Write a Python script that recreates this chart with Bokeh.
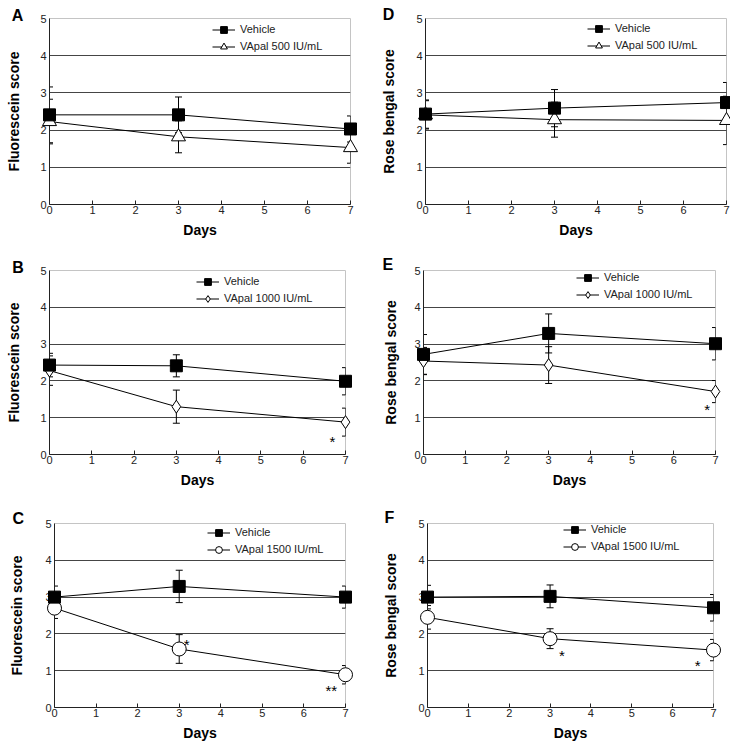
from bokeh.plotting import figure
from bokeh.models import (Range1d, FixedTicker, Whisker, TeeHead, ColumnDataSource,
                          Legend, LegendItem)
from bokeh.layouts import column, row
from bokeh.core.properties import value
from bokeh.embed import file_html
from bokeh.resources import INLINE

# ---------------- data ----------------
days = [0, 3, 7]
x_ticks = [0, 1, 2, 3, 4, 5, 6, 7]
y_ticks = [0, 1, 2, 3, 4, 5]
grid_levels = [1, 2, 3, 4]

# Panel A: Fluorescein, VApal 500
A_vehicle = [2.41, 2.41, 2.03]
A_vehicle_err = [0.75, 0.48, 0.35]
A_vapal = [2.23, 1.82, 1.53]
A_vapal_err = [0.60, 0.43, 0.42]
A_star_x, A_star_y, A_star_text = [], [], []

# Panel B: Fluorescein, VApal 1000
B_vehicle = [2.43, 2.41, 1.99]
B_vehicle_err = [0.32, 0.30, 0.37]
B_vapal = [2.28, 1.30, 0.88]
B_vapal_err = [0.40, 0.45, 0.38]
B_star_x, B_star_y, B_star_text = [6.69], [0.47], ["*"]

# Panel C: Fluorescein, VApal 1500
C_vehicle = [3.00, 3.29, 3.00]
C_vehicle_err = [0.30, 0.44, 0.30]
C_vapal = [2.70, 1.59, 0.89]
C_vapal_err = [0.28, 0.39, 0.25]
C_star_x, C_star_y, C_star_text = [3.18, 6.66], [1.83, 0.58], ["*", "**"]

# Panel D: Rose bengal, VApal 500
D_vehicle = [2.43, 2.59, 2.74]
D_vehicle_err = [0.38, 0.50, 0.54]
D_vapal = [2.41, 2.28, 2.26]
D_vapal_err = [0.38, 0.47, 0.65]
D_star_x, D_star_y, D_star_text = [], [], []

# Panel E: Rose bengal, VApal 1000
E_vehicle = [2.72, 3.29, 3.01]
E_vehicle_err = [0.54, 0.53, 0.44]
E_vapal = [2.54, 2.43, 1.71]
E_vapal_err = [0.37, 0.50, 0.30]
E_star_x, E_star_y, E_star_text = [6.80], [1.33], ["*"]

# Panel F: Rose bengal, VApal 1500
F_vehicle = [3.00, 3.02, 2.71]
F_vehicle_err = [0.32, 0.31, 0.36]
F_vapal = [2.45, 1.87, 1.56]
F_vapal_err = [0.32, 0.27, 0.29]
F_star_x, F_star_y, F_star_text = [3.29, 6.61], [1.51, 1.25], ["*", "*"]

FONT = "Liberation Sans"


def make_panel(letter, ylabel, trt_label, marker, msize,
               veh, veh_err, trt, trt_err, sx, sy, st, geom):
    (W, H, left, right, top, bottom, leg_loc, let_off, ystand) = geom
    p = figure(width=W, height=H, x_range=Range1d(0, 7), y_range=Range1d(0, 5),
               output_backend="svg", toolbar_location=None,
               min_border_left=left, min_border_right=right,
               min_border_top=top, min_border_bottom=bottom)
    p.background_fill_color = "white"
    p.border_fill_color = "white"
    p.outline_line_color = "#c4c4c4"
    p.outline_line_width = 1

    # axes
    p.xaxis.ticker = FixedTicker(ticks=x_ticks)
    p.yaxis.ticker = FixedTicker(ticks=y_ticks)
    for ax in (p.xaxis[0], p.yaxis[0]):
        ax.axis_line_color = "#222222"
        ax.axis_line_width = 1
        ax.major_tick_line_color = "#222222"
        ax.minor_tick_in = 0
        ax.minor_tick_out = 0
        ax.major_label_text_font = FONT
        ax.major_label_text_font_size = "11px"
        ax.major_label_text_color = "#222222"
        ax.axis_label_text_font = FONT
        ax.axis_label_text_font_size = "14px"
        ax.axis_label_text_font_style = "bold"
        ax.axis_label_text_color = "black"
    p.xaxis.major_tick_in = 4
    p.xaxis.major_tick_out = 0
    p.xaxis.major_label_standoff = 1
    p.xaxis.axis_label = "Days"
    p.xaxis.axis_label_standoff = 5
    p.yaxis.major_tick_in = 0
    p.yaxis.major_tick_out = 0
    p.yaxis.major_label_standoff = 3
    p.yaxis.axis_label = ylabel
    p.yaxis.axis_label_standoff = int(ystand)

    p.xgrid.visible = False
    p.ygrid.ticker = FixedTicker(ticks=grid_levels)
    p.ygrid.grid_line_color = "#454545"
    p.ygrid.grid_line_width = 1

    # error bars
    for m, e in ((trt, trt_err), (veh, veh_err)):
        src = ColumnDataSource(dict(x=days,
                                    upper=[a + b for a, b in zip(m, e)],
                                    lower=[a - b for a, b in zip(m, e)]))
        w = Whisker(base="x", upper="upper", lower="lower", source=src,
                    line_color="black", line_width=1,
                    upper_head=TeeHead(size=7, line_color="black", line_width=1),
                    lower_head=TeeHead(size=7, line_color="black", line_width=1))
        p.add_layout(w)

    tl = p.line(days, trt, line_color="black", line_width=1)
    vl = p.line(days, veh, line_color="black", line_width=1)
    ts = p.scatter(days, trt, marker=marker, size=msize, fill_color="white",
                   line_color="black", line_width=1, level="overlay")
    vs = p.scatter(days, veh, marker="square", size=12, fill_color="black",
                   line_color="black", line_width=1, level="overlay")

    if st:
        p.text(sx, sy, text=st, text_font=value(FONT), text_font_size="15px",
               text_align="center", text_baseline="middle", y_offset=4,
               text_color="black", level="overlay")

    legend = Legend(items=[LegendItem(label="Vehicle", renderers=[vl, vs]),
                           LegendItem(label=trt_label, renderers=[tl, ts])],
                    location=leg_loc, orientation="vertical",
                    background_fill_alpha=0, border_line_alpha=0,
                    padding=0, spacing=0, margin=0,
                    glyph_width=23, glyph_height=17, label_height=17,
                    label_standoff=5, label_text_font=FONT,
                    label_text_font_size="11px", label_text_color="#222222")
    p.add_layout(legend)

    # panel letter, anchored to the top-left corner of the frame
    p.text([0], [5], text=[letter], text_font=value(FONT), text_font_size="16px",
           text_font_style="bold", text_align="center", text_baseline="middle",
           x_offset=let_off[0], y_offset=let_off[1], text_color="black",
           level="overlay")
    return p


pA = make_panel("A", "Fluorescein score", "VApal 500 IU/mL", "triangle", 14,
                A_vehicle, A_vehicle_err, A_vapal, A_vapal_err,
                A_star_x, A_star_y, A_star_text,
                (369, 250, 49, 19, 18, 46, (163, 149.5), (-32, -3.5), 15))
pD = make_panel("D", "Rose bengal score", "VApal 500 IU/mL", "triangle", 14,
                D_vehicle, D_vehicle_err, D_vapal, D_vapal_err,
                D_star_x, D_star_y, D_star_text,
                (361, 250, 56, 4, 18, 45, (162, 150.5), (-37, -3.7), 16))
pB = make_panel("B", "Fluorescein score", "VApal 1000 IU/mL", "diamond", 13,
                B_vehicle, B_vehicle_err, B_vapal, B_vapal_err,
                B_star_x, B_star_y, B_star_text,
                (369, 250, 49, 24, 19, 46, (147, 147.5), (-31.5, -3.3), 15))
pE = make_panel("E", "Rose bengal score", "VApal 1000 IU/mL", "diamond", 13,
                E_vehicle, E_vehicle_err, E_vapal, E_vapal_err,
                E_star_x, E_star_y, E_star_text,
                (361, 250, 54, 15, 20, 44, (153, 151.5), (-35.7, -6), 12))
pC = make_panel("C", "Fluorescein score", "VApal 1500 IU/mL", "circle", 14,
                C_vehicle, C_vehicle_err, C_vapal, C_vapal_err,
                C_star_x, C_star_y, C_star_text,
                (369, 243, 54, 24, 22, 34, (153, 149.5), (-36.2, -5.3), 17))
pF = make_panel("F", "Rose bengal score", "VApal 1500 IU/mL", "circle", 14,
                F_vehicle, F_vehicle_err, F_vapal, F_vapal_err,
                F_star_x, F_star_y, F_star_text,
                (361, 243, 58, 17, 23, 31, (136, 152.5), (-38, -5.7), 16))

layout = column(row(pA, pD), row(pB, pE), row(pC, pF))
open("out.html", "w").write(file_html(layout, INLINE))
